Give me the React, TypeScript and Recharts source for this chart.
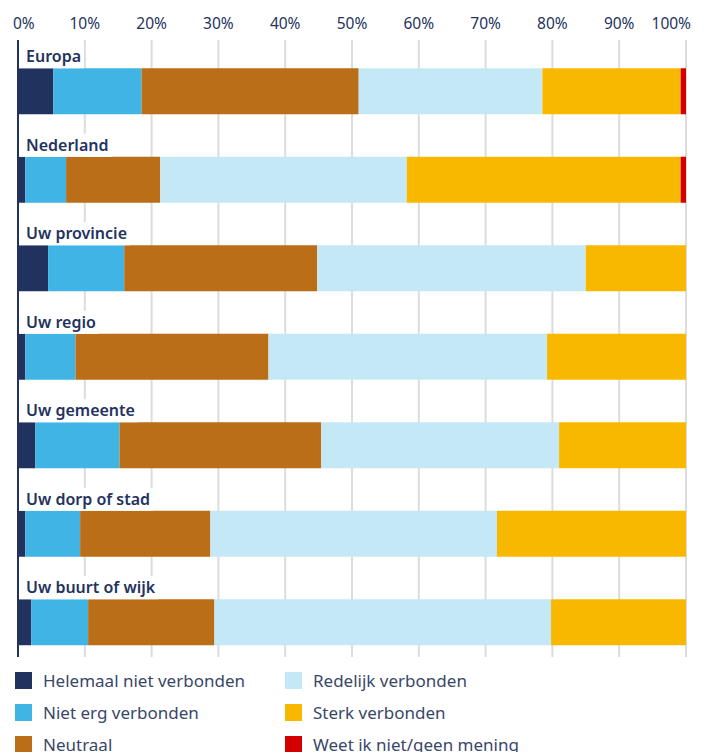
import React from 'react';
import {
  BarChart,
  Bar,
  XAxis,
  YAxis,
  CartesianGrid,
  LabelList,
} from 'recharts';

// ─── Data ───

const categories = [
  'Europa',
  'Nederland',
  'Uw provincie',
  'Uw regio',
  'Uw gemeente',
  'Uw dorp of stad',
  'Uw buurt of wijk',
];

const seriesNames = [
  'Helemaal niet verbonden',
  'Niet erg verbonden',
  'Neutraal',
  'Redelijk verbonden',
  'Sterk verbonden',
  'Weet ik niet/geen mening',
];

const helemaalNiet = [5.3, 1.1, 4.5, 1.1, 2.6, 1.1, 2.0];
const nietErg = [13.2, 6.1, 11.4, 7.5, 12.6, 8.2, 8.5];
const neutraal = [32.5, 14.1, 28.9, 28.9, 30.2, 19.5, 18.9];
const redelijk = [27.5, 36.9, 40.2, 41.7, 35.6, 42.9, 50.4];
const sterk = [20.7, 41.0, 15.0, 20.8, 19.0, 28.3, 20.2];
const weetNiet = [0.8, 0.8, 0, 0, 0, 0, 0];

const tickValues = [0, 10, 20, 30, 40, 50, 60, 70, 80, 90, 100];

const COLORS = ['#21325e', '#41b4e6', '#b96e17', '#c5e8f7', '#f9b800', '#d40000'];
const KEYS = ['k0', 'k1', 'k2', 'k3', 'k4', 'k5'];

const NAVY = '#24335e';
const FONT = '"Noto Sans", sans-serif';

const data = categories.map((name, i) => ({
  name,
  k0: helemaalNiet[i],
  k1: nietErg[i],
  k2: neutraal[i],
  k3: redelijk[i],
  k4: sterk[i],
  k5: weetNiet[i],
}));

// ─── Helpers ───

let measureCtx: CanvasRenderingContext2D | null = null;
function textWidth(s: string, font: string): number {
  if (!measureCtx) measureCtx = document.createElement('canvas').getContext('2d');
  if (!measureCtx) return s.length * 8.6;
  measureCtx.font = font;
  return measureCtx.measureText(s).width;
}

function AxisTick(props: any) {
  const { x, y, payload } = props;
  let anchor: 'start' | 'middle' | 'end' = 'middle';
  let dx = 0;
  if (payload.value === 0) {
    anchor = 'start';
    dx = -5;
  } else if (payload.value === 100) {
    anchor = 'end';
    dx = 5;
  }
  return (
    <text
      x={x + dx}
      y={y - 3}
      textAnchor={anchor}
      fill={NAVY}
      fontSize={15.5}
      fontFamily={FONT}
    >
      {`${payload.value}%`}
    </text>
  );
}

function CategoryLabel(props: any) {
  const { x, y, value } = props;
  const w = textWidth(String(value), `600 16px ${FONT}`);
  return (
    <g>
      <rect x={x + 1} y={y - 23} width={w + 10} height={23} fill="#ffffff" />
      <text x={x + 8} y={y - 6} fill={NAVY} fontSize={16} fontWeight={600} fontFamily={FONT}>
        {value}
      </text>
    </g>
  );
}

function ChartLegend() {
  return (
    <>
      {seriesNames.map((name, i) => {
        const col = Math.floor(i / 3);
        const row = i % 3;
        return (
          <div
            key={name}
            style={{
              position: 'absolute',
              left: col === 0 ? 15 : 285,
              top: 672 + row * 32,
              display: 'flex',
              alignItems: 'center',
              height: 17,
            }}
          >
            <span style={{ width: 17, height: 17, background: COLORS[i], display: 'inline-block' }} />
            <span
              style={{
                marginLeft: 11,
                fontFamily: FONT,
                fontSize: 17,
                color: '#3a4768',
                whiteSpace: 'nowrap',
                lineHeight: '17px',
              }}
            >
              {name}
            </span>
          </div>
        );
      })}
    </>
  );
}

export default function App() {
  return (
    <div
      style={{
        position: 'absolute',
        left: 0,
        top: 0,
        width: 705,
        height: 752,
        overflow: 'hidden',
        background: '#ffffff',
      }}
    >
      <BarChart
        width={705}
        height={660}
        data={data}
        layout="vertical"
        margin={{ top: 0, right: 19, left: 0, bottom: 3 }}
      >
        <CartesianGrid vertical horizontal={false} stroke="#dcdcdc" strokeWidth={2} />
        <XAxis
          type="number"
          orientation="top"
          domain={[0, 100]}
          ticks={tickValues}
          axisLine={false}
          tickLine={false}
          height={40}
          tick={<AxisTick />}
          interval={0}
        />
        <YAxis
          type="category"
          dataKey="name"
          width={18}
          tick={false}
          tickLine={false}
          axisLine={{ stroke: '#21325e', strokeWidth: 2 }}
          padding={{ top: 7.25, bottom: -9.75 }}
        />
        {KEYS.map((k, i) => (
          <Bar
            key={k}
            dataKey={k}
            stackId="a"
            fill={COLORS[i]}
            barSize={46}
            isAnimationActive={false}
          >
            {i === 0 && <LabelList dataKey="name" content={<CategoryLabel />} />}
          </Bar>
        ))}
      </BarChart>
      <ChartLegend />
    </div>
  );
}
